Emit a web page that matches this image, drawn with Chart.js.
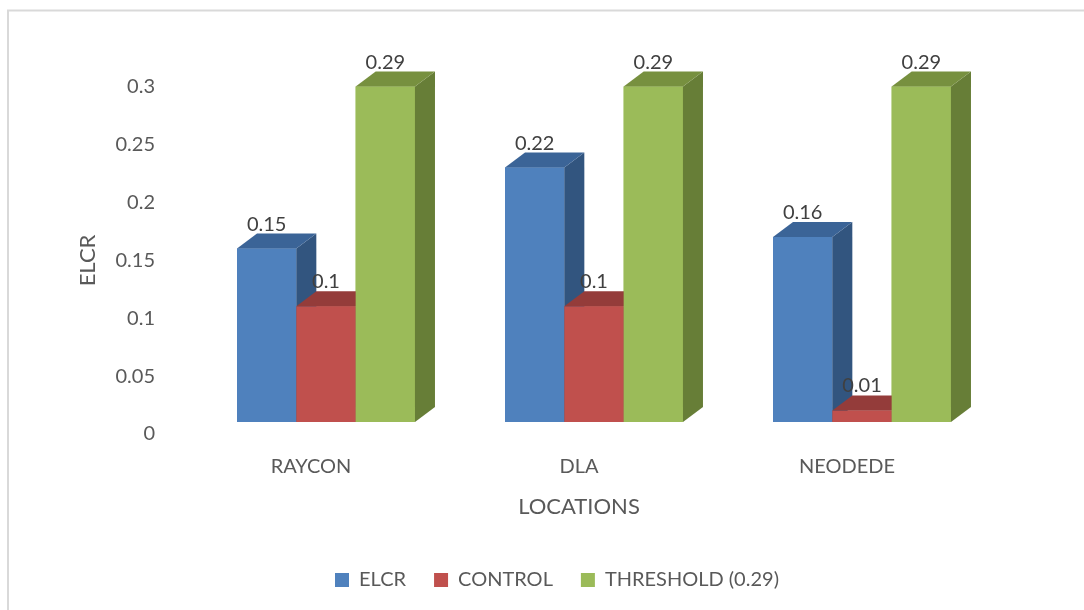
<!DOCTYPE html>
<html>
<head>
<meta charset="utf-8">
<style>
  html, body { margin: 0; padding: 0; background: #ffffff; }
  #wrap { width: 1084px; height: 610px; position: relative; }
  canvas { display: block; }
</style>
<script src="https://cdn.jsdelivr.net/npm/chart.js@4/dist/chart.umd.min.js"></script>
</head>
<body>
<div id="wrap"><canvas id="chart" width="1084" height="610"></canvas></div>
<script>
// Locations on the x axis
const locations = ['RAYCON', 'DLA', 'NEODEDE'];

// Excess lifetime cancer risk per location
const elcrValues = [0.15, 0.22, 0.16];
const controlValues = [0.1, 0.1, 0.01];
const thresholdValues = [0.29, 0.29, 0.29];

// Value axis tick labels, bottom to top
const yTickLabels = ['0', '0.05', '0.1', '0.15', '0.2', '0.25', '0.3'];

const TEXT = '#595959';
const FONT = 'Lato, "Open Sans", sans-serif';

// Face colours for each series: front, top, side
const shades = [
  { front: '#4F81BD', top: '#3B6497', side: '#32557F' },
  { front: '#C0504D', top: '#943C3A', side: '#8A3634' },
  { front: '#9BBB59', top: '#77903F', side: '#677E37' }
];

// 3-D projection: the front faces sit forward of the axis plane,
// and each column is extruded backwards by the depth vector
const FRONT_X = 15;
const FRONT_Y = -12;
const DEPTH_X = 20;
const DEPTH_Y = 15;

const columns3d = {
  id: 'columns3d',
  beforeDatasetsDraw(chart) {
    chart.ctx.save();
    chart.ctx.translate(FRONT_X, FRONT_Y);
  },
  afterDatasetsDraw(chart) {
    const ctx = chart.ctx;
    // series are painted left to right so each front hides its neighbour's side
    chart.data.datasets.forEach((ds, i) => {
      const shade = shades[i];
      chart.getDatasetMeta(i).data.forEach(bar => {
        bar.draw(ctx);
        const p = bar.getProps(['x', 'y', 'base', 'width'], true);
        const l = p.x - p.width / 2, r = p.x + p.width / 2;
        const t = Math.min(p.y, p.base), b = Math.max(p.y, p.base);
        ctx.fillStyle = shade.side;
        ctx.beginPath();
        ctx.moveTo(r, b);
        ctx.lineTo(r + DEPTH_X, b - DEPTH_Y);
        ctx.lineTo(r + DEPTH_X, t - DEPTH_Y);
        ctx.lineTo(r, t);
        ctx.closePath();
        ctx.fill();
        ctx.fillStyle = shade.top;
        ctx.beginPath();
        ctx.moveTo(l, t);
        ctx.lineTo(l + DEPTH_X, t - DEPTH_Y);
        ctx.lineTo(r + DEPTH_X, t - DEPTH_Y);
        ctx.lineTo(r, t);
        ctx.closePath();
        ctx.fill();
      });
    });
    // value labels above each column
    ctx.font = '20px ' + FONT;
    ctx.fillStyle = '#404040';
    ctx.textAlign = 'center';
    ctx.textBaseline = 'alphabetic';
    chart.data.datasets.forEach((ds, i) => {
      chart.getDatasetMeta(i).data.forEach((bar, j) => {
        const p = bar.getProps(['x', 'y'], true);
        ctx.fillText(String(ds.data[j]), p.x, p.y - DEPTH_Y - 3);
      });
    });
    ctx.restore();
  }
};

// Centres the legend row under the whole figure rather than the plot
const legendShift = {
  id: 'legendShift',
  afterLayout(chart) {
    if (chart.legend) {
      chart.legend.left += 30;
      chart.legend.right += 30;
    }
  }
};

// Light frame around the chart
const frame = {
  id: 'frame',
  beforeDraw(chart) {
    const ctx = chart.ctx;
    ctx.save();
    ctx.fillStyle = '#ffffff';
    ctx.fillRect(0, 0, chart.width, chart.height);
    ctx.strokeStyle = '#d9d9d9';
    ctx.lineWidth = 2;
    ctx.beginPath();
    ctx.moveTo(8, chart.height);
    ctx.lineTo(8, 10.5);
    ctx.lineTo(chart.width, 10.5);
    ctx.stroke();
    ctx.restore();
  }
};

new Chart(document.getElementById('chart'), {
  type: 'bar',
  data: {
    labels: locations,
    datasets: [
      { label: 'ELCR', data: elcrValues, backgroundColor: shades[0].front },
      { label: 'CONTROL', data: controlValues, backgroundColor: shades[1].front },
      { label: 'THRESHOLD (0.29)', data: thresholdValues, backgroundColor: shades[2].front }
    ]
  },
  options: {
    responsive: false,
    animation: false,
    devicePixelRatio: 1,
    layout: { padding: { left: 73, right: 103, top: 87, bottom: 10 } },
    datasets: {
      bar: { barPercentage: 1, categoryPercentage: 0.664, borderWidth: 0 }
    },
    scales: {
      x: {
        grid: { display: false, drawTicks: false },
        border: { display: false },
        ticks: {
          color: TEXT,
          font: { family: FONT, size: 20 },
          padding: 21,
          maxRotation: 0
        },
        title: {
          display: true,
          text: 'LOCATIONS',
          color: TEXT,
          font: { family: FONT, size: 22 },
          padding: { top: 4, bottom: 22 }
        },
        afterFit(scale) { scale.height = 108; }
      },
      y: {
        min: 0,
        max: 0.3,
        grid: { display: false, drawTicks: false },
        border: { display: false },
        ticks: {
          stepSize: 0.05,
          color: TEXT,
          font: { family: FONT, size: 20 },
          padding: 22,
          callback: (v, i) => yTickLabels[i]
        },
        title: {
          display: true,
          text: 'ELCR',
          color: TEXT,
          font: { family: FONT, size: 22 },
          padding: { top: 2, bottom: 2 }
        },
        afterFit(scale) { scale.width = 104; }
      }
    },
    plugins: {
      legend: {
        position: 'bottom',
        labels: {
          color: TEXT,
          font: { family: FONT, size: 20 },
          boxWidth: 14,
          boxHeight: 14,
          padding: 28
        }
      },
      tooltip: { enabled: false }
    }
  },
  plugins: [frame, columns3d, legendShift]
});
</script>
</body>
</html>
